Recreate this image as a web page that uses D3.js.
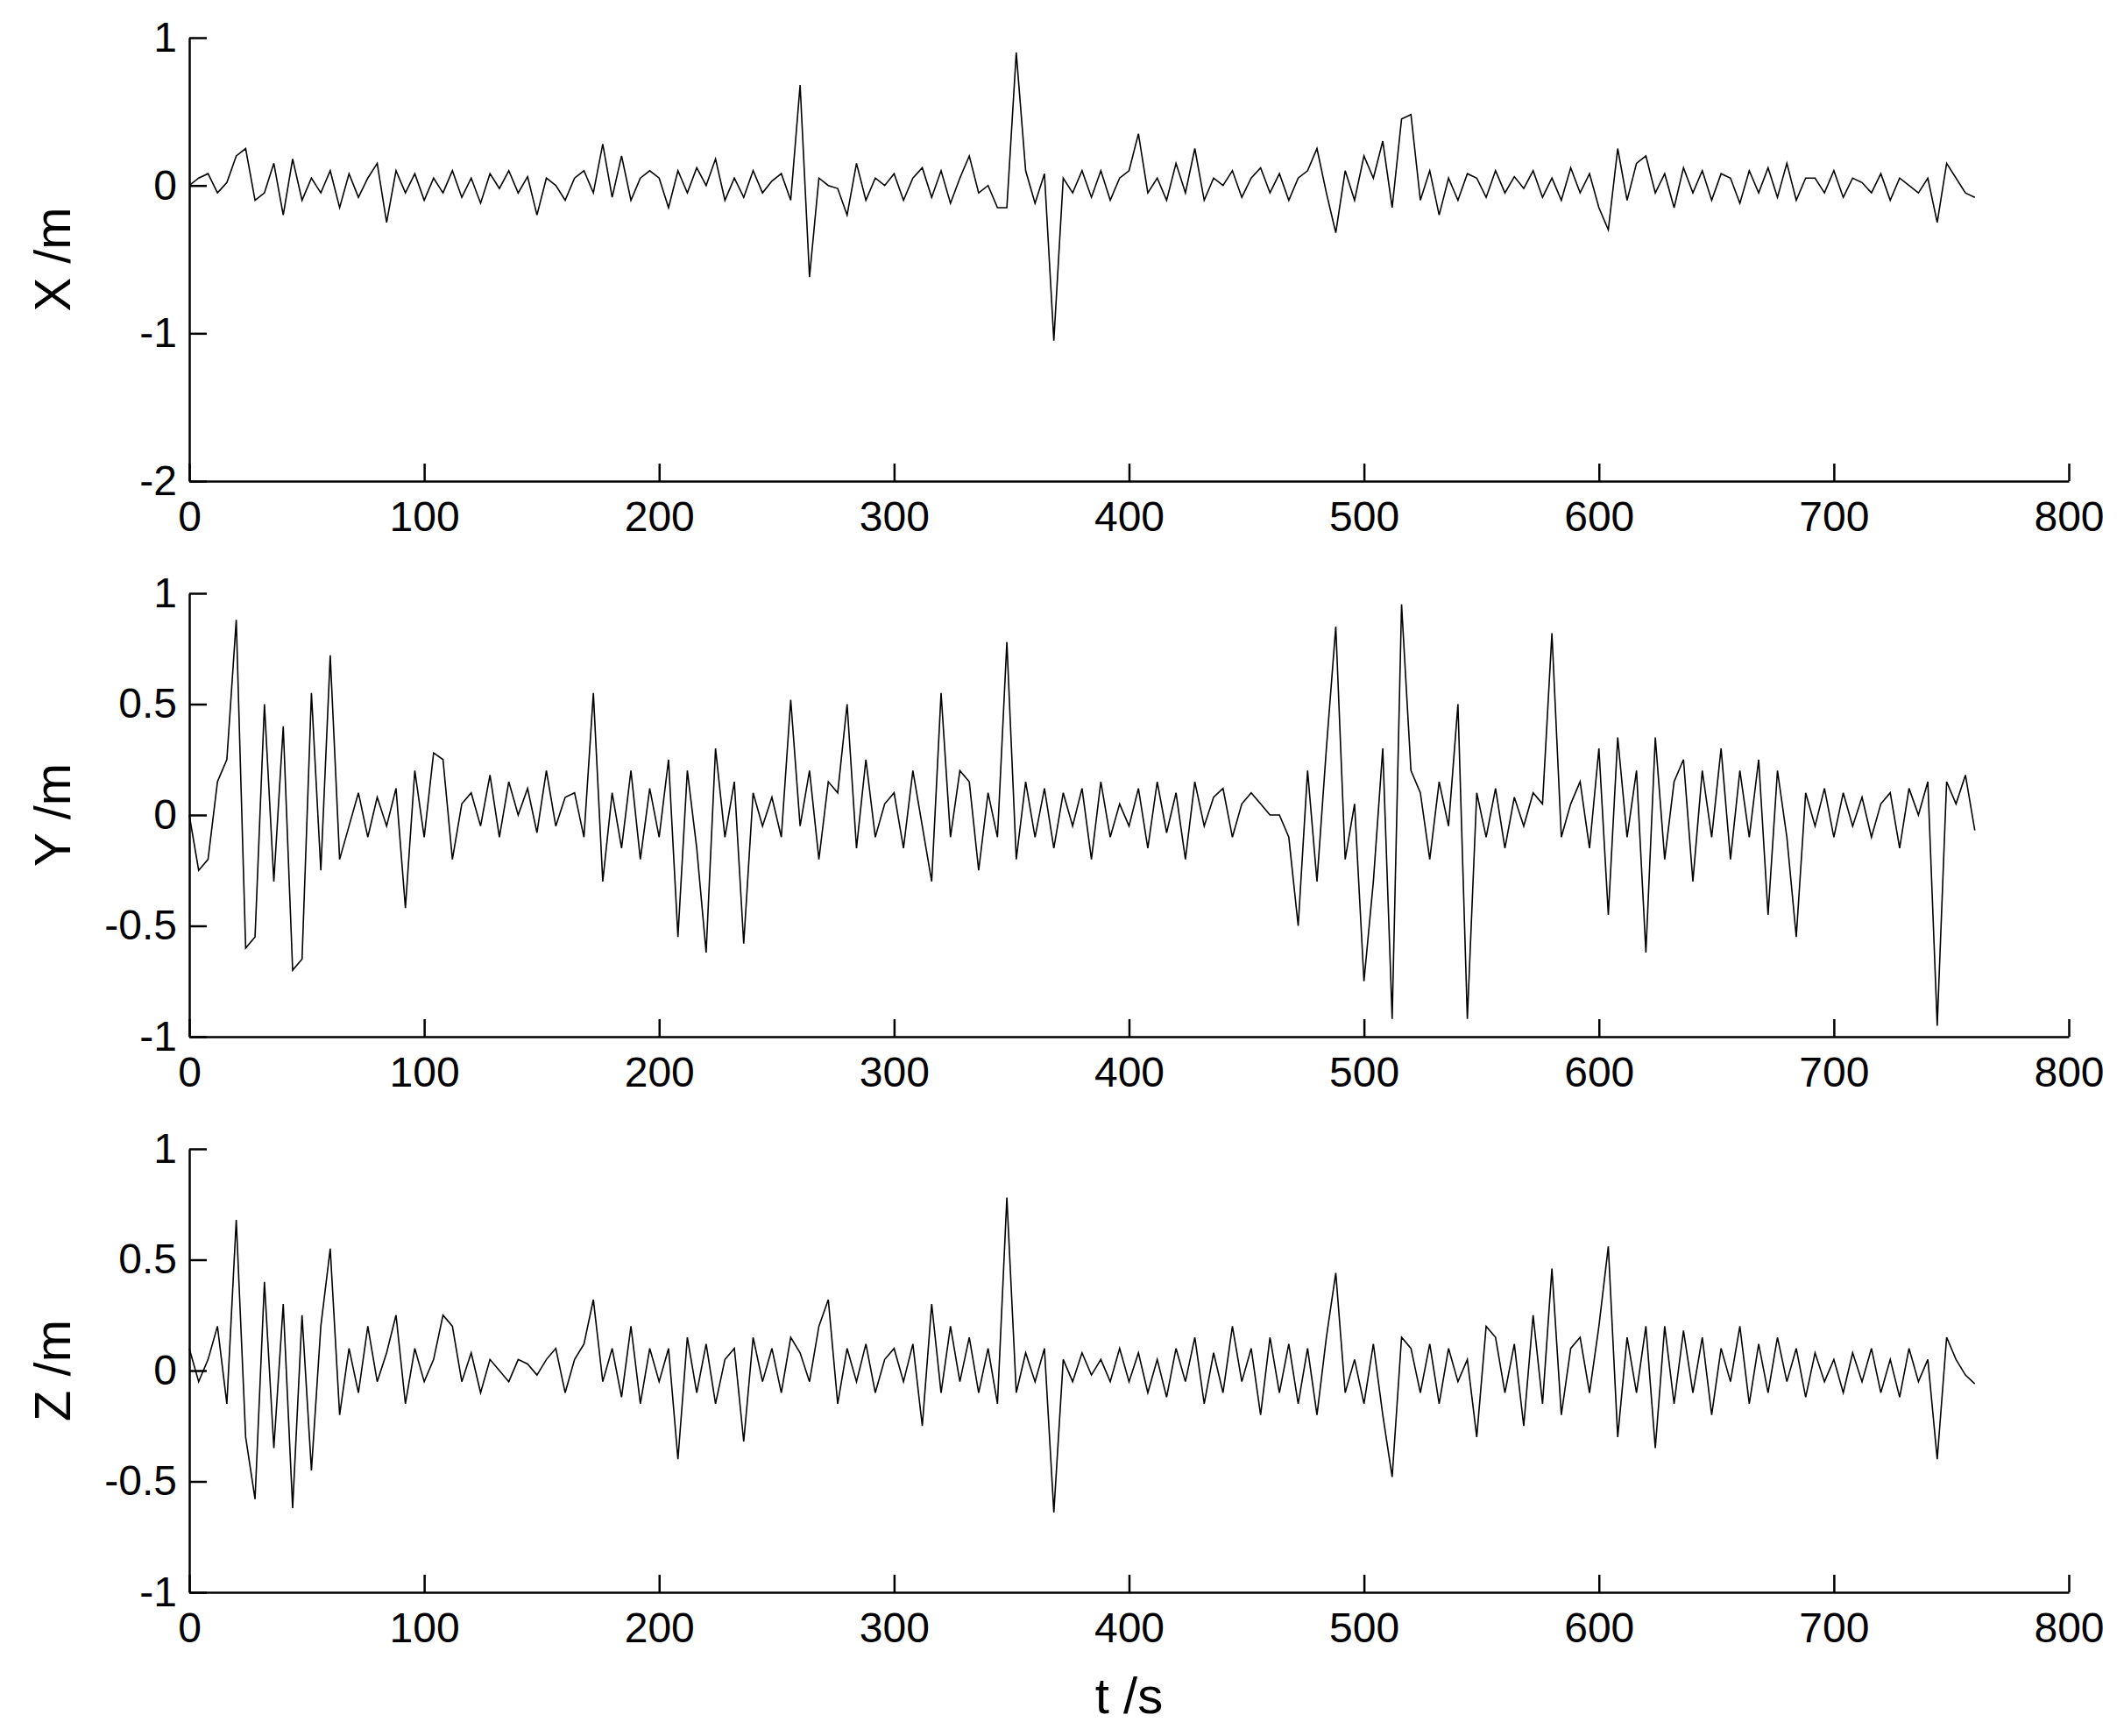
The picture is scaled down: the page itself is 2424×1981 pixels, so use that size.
<!DOCTYPE html>
<html><head><meta charset="utf-8">
<script src="https://cdn.jsdelivr.net/npm/d3@7"></script>
<style>body{margin:0;background:#fff}text{font-family:"Liberation Sans",Arial,sans-serif}</style>
</head><body><div id="chart"></div>
<script>
// samples every 4 s
var step = 4;
var xTicks = [0,100,200,300,400,500,600,700,800];
var xSeries = [
 0,0.05,0.08,-0.05,0.02,0.2,0.25,-0.1,-0.05,0.15,-0.2,0.18,-0.1,0.05,-0.05,0.1,-0.15,0.08,-0.08,0.05,0.15,-0.25,0.1,-0.05,0.08,
 -0.1,0.05,-0.05,0.1,-0.08,0.05,-0.12,0.08,-0.02,0.1,-0.05,0.06,-0.2,0.05,0,-0.1,0.05,0.1,-0.05,0.28,-0.08,0.2,-0.1,0.05,0.1,
 0.05,-0.15,0.1,-0.05,0.12,0,0.18,-0.1,0.05,-0.08,0.1,-0.05,0.03,0.08,-0.1,0.68,-0.62,0.05,0,-0.02,-0.2,0.15,-0.1,0.05,0,
 0.08,-0.1,0.05,0.12,-0.08,0.1,-0.12,0.05,0.2,-0.05,0,-0.15,-0.15,0.9,0.1,-0.12,0.08,-1.05,0.05,-0.05,0.1,-0.08,0.1,-0.1,0.05,
 0.1,0.35,-0.05,0.05,-0.1,0.15,-0.05,0.25,-0.1,0.05,0,0.1,-0.08,0.05,0.12,-0.05,0.08,-0.1,0.05,0.1,0.25,-0.05,-0.32,0.1,-0.1,
 0.2,0.05,0.3,-0.15,0.45,0.48,-0.1,0.1,-0.2,0.05,-0.1,0.08,0.05,-0.08,0.1,-0.05,0.06,-0.02,0.1,-0.08,0.05,-0.1,0.12,-0.05,0.08,
 -0.15,-0.3,0.25,-0.1,0.15,0.2,-0.05,0.08,-0.15,0.12,-0.05,0.1,-0.1,0.08,0.05,-0.12,0.1,-0.05,0.12,-0.08,0.15,-0.1,0.05,0.05,-0.05,
 0.1,-0.08,0.05,0.02,-0.05,0.08,-0.1,0.05,0,-0.05,0.05,-0.25,0.15,0.05,-0.05,-0.08
];
var ySeries = [
 0,-0.25,-0.2,0.15,0.25,0.88,-0.6,-0.55,0.5,-0.3,0.4,-0.7,-0.65,0.55,-0.25,0.72,-0.2,-0.05,0.1,-0.1,0.08,-0.05,0.12,-0.42,0.2,
 -0.1,0.28,0.25,-0.2,0.05,0.1,-0.05,0.18,-0.1,0.15,0,0.12,-0.08,0.2,-0.05,0.08,0.1,-0.1,0.55,-0.3,0.1,-0.15,0.2,-0.2,0.12,
 -0.1,0.25,-0.55,0.2,-0.15,-0.62,0.3,-0.1,0.15,-0.58,0.1,-0.05,0.08,-0.1,0.52,-0.05,0.2,-0.2,0.15,0.1,0.5,-0.15,0.25,-0.1,0.05,
 0.1,-0.15,0.2,-0.05,-0.3,0.55,-0.1,0.2,0.15,-0.25,0.1,-0.1,0.78,-0.2,0.15,-0.1,0.12,-0.15,0.1,-0.05,0.12,-0.2,0.15,-0.1,0.05,
 -0.05,0.12,-0.15,0.15,-0.08,0.1,-0.2,0.15,-0.05,0.08,0.12,-0.1,0.05,0.1,0.05,0,0,-0.1,-0.5,0.2,-0.3,0.3,0.85,-0.2,0.05,
 -0.75,-0.3,0.3,-0.92,0.95,0.2,0.1,-0.2,0.15,-0.05,0.5,-0.92,0.1,-0.1,0.12,-0.15,0.08,-0.05,0.1,0.05,0.82,-0.1,0.05,0.15,-0.15,
 0.3,-0.45,0.35,-0.1,0.2,-0.62,0.35,-0.2,0.15,0.25,-0.3,0.2,-0.1,0.3,-0.2,0.2,-0.1,0.25,-0.45,0.2,-0.1,-0.55,0.1,-0.05,0.12,
 -0.1,0.1,-0.05,0.08,-0.1,0.05,0.1,-0.15,0.12,0,0.15,-0.95,0.15,0.05,0.18,-0.07
];
var zSeries = [
 0.1,-0.05,0.05,0.2,-0.15,0.68,-0.3,-0.58,0.4,-0.35,0.3,-0.62,0.25,-0.45,0.2,0.55,-0.2,0.1,-0.1,0.2,-0.05,0.08,0.25,-0.15,0.1,
 -0.05,0.05,0.25,0.2,-0.05,0.08,-0.1,0.05,0,-0.05,0.05,0.03,-0.02,0.05,0.1,-0.1,0.05,0.12,0.32,-0.05,0.1,-0.12,0.2,-0.15,0.1,
 -0.05,0.1,-0.4,0.15,-0.1,0.12,-0.15,0.05,0.1,-0.32,0.15,-0.05,0.1,-0.1,0.15,0.08,-0.05,0.2,0.32,-0.15,0.1,-0.05,0.12,-0.1,0.05,
 0.1,-0.05,0.12,-0.25,0.3,-0.1,0.2,-0.05,0.15,-0.1,0.1,-0.15,0.78,-0.1,0.08,-0.05,0.1,-0.64,0.05,-0.05,0.08,-0.02,0.05,-0.05,0.1,
 -0.05,0.08,-0.1,0.05,-0.12,0.1,-0.05,0.15,-0.15,0.08,-0.1,0.2,-0.05,0.1,-0.2,0.15,-0.1,0.12,-0.15,0.1,-0.2,0.15,0.44,-0.1,0.05,
 -0.15,0.12,-0.2,-0.48,0.15,0.1,-0.1,0.12,-0.15,0.1,-0.05,0.05,-0.3,0.2,0.15,-0.1,0.12,-0.25,0.25,-0.15,0.46,-0.2,0.1,0.15,-0.1,
 0.2,0.56,-0.3,0.15,-0.1,0.2,-0.35,0.2,-0.15,0.18,-0.1,0.15,-0.2,0.1,-0.05,0.2,-0.15,0.12,-0.1,0.15,-0.05,0.1,-0.12,0.08,-0.05,
 0.05,-0.1,0.08,-0.05,0.1,-0.1,0.05,-0.12,0.1,-0.05,0.05,-0.4,0.15,0.05,-0.02,-0.06
];
var panels = [
  {label: "X /m", values: xSeries, domain: [-2, 1], ticks: [-2,-1,0,1]},
  {label: "Y /m", values: ySeries, domain: [-1, 1], ticks: [-1,-0.5,0,0.5,1]},
  {label: "Z /m", values: zSeries, domain: [-1, 1], ticks: [-1,-0.5,0,0.5,1]}
];

var svgWidth = 2424, svgHeight = 1981;
var left = 216, right = 2361;
var tops = [43, 677, 1311], panelH = 506;

var svg = d3.select("#chart").append("svg")
  .attr("width", svgWidth).attr("height", svgHeight);

var x = d3.scaleLinear().domain([0, 800]).range([left, right]);

panels.forEach(function (p, i) {
  var y = d3.scaleLinear().domain(p.domain).range([tops[i] + panelH, tops[i]]);
  var g = svg.append("g");

  var bottomAxis = d3.axisBottom(x).tickValues(xTicks).tickSize(-20).tickPadding(16).tickSizeOuter(0);
  var leftAxis = d3.axisLeft(y).tickValues(p.ticks).tickSize(-20).tickPadding(14).tickSizeOuter(0)
    .tickFormat(function (d) { return String(d); });

  var gx = g.append("g").attr("transform", `translate(0, ${tops[i] + panelH})`).call(bottomAxis);
  var gy = g.append("g").attr("transform", `translate(${left}, 0)`).call(leftAxis);
  [gx, gy].forEach(function (a) {
    a.selectAll("path, line").attr("stroke", "#000").attr("stroke-width", 2.5);
    a.selectAll("text").attr("font-size", 48).attr("fill", "#000")
      .style("font-family", "'Liberation Sans', Arial, sans-serif");
  });
  gx.selectAll("text").attr("dy", "0.85em");

  var line = d3.line()
    .x(function (d, j) { return x(j * step); })
    .y(function (d) { return y(d); });
  g.append("path").datum(p.values)
    .attr("d", line).attr("fill", "none")
    .attr("stroke", "#000").attr("stroke-width", 1.6);

  g.append("text")
    .attr("transform", `translate(${60}, ${tops[i] + panelH / 2}) rotate(-90)`)
    .attr("text-anchor", "middle").attr("dy", "0.35em")
    .attr("font-size", 58).text(p.label);
});

svg.append("text")
  .attr("x", (left + right) / 2).attr("y", 1955)
  .attr("text-anchor", "middle").attr("font-size", 58).text("t /s");
</script></body></html>
